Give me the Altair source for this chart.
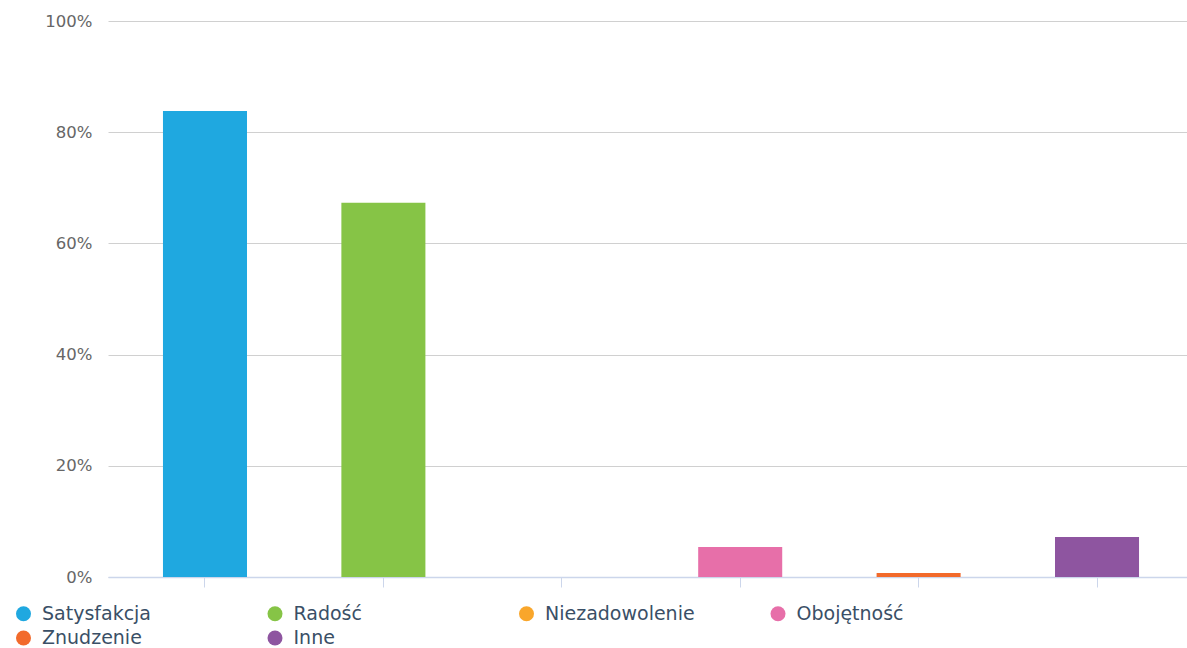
import altair as alt
import pandas as pd

# Survey answers and their shares (percent)
categories = ["Satysfakcja", "Radość", "Niezadowolenie", "Obojętność", "Znudzenie", "Inne"]
shares = [83.8, 67.3, 0.0, 5.4, 0.7, 7.2]
colors = ["#1fa8e0", "#86c446", "#f9a62b", "#e76fa9", "#f26a2b", "#8e55a0"]
y_ticks = [0, 20, 40, 60, 80, 100]

df = pd.DataFrame({"kategoria": categories, "udzial": shares})

chart = (
    alt.Chart(df)
    .mark_bar()
    .encode(
        x=alt.X(
            "kategoria:N",
            sort=categories,
            title=None,
            scale=alt.Scale(paddingInner=0.529, paddingOuter=0.2885, align=0.534),
            axis=alt.Axis(
                labels=False,
                grid=False,
                domainColor="#ccd6eb",
                tickColor="#ccd6eb",
                tickSize=10,
                domainWidth=1.5,
            ),
        ),
        y=alt.Y(
            "udzial:Q",
            title=None,
            scale=alt.Scale(domain=[0, 100], nice=False),
            axis=alt.Axis(
                values=y_ticks,
                labelExpr="datum.value + '%'",
                domain=False,
                ticks=False,
                gridColor="#d0d0d0",
                labelColor="#666666",
                labelFont="DejaVu Sans",
                labelFontSize=16.5,
                labelPadding=16,
            ),
        ),
        color=alt.Color(
            "kategoria:N",
            sort=categories,
            scale=alt.Scale(domain=categories, range=colors),
            legend=alt.Legend(
                title=None,
                orient="none",
                legendX=-94,
                legendY=583,
                columns=4,
                direction="horizontal",
                gridAlign="all",
                columnPadding=73.5,
                rowPadding=4.5,
                symbolType="circle",
                symbolSize=225,
                symbolStrokeWidth=0,
                labelFont="DejaVu Sans",
                labelFontSize=19,
                labelColor="#3a4f66",
                labelOffset=9,
                labelLimit=300,
            ),
        ),
    )
    .properties(
        width=1079,
        height=556,
        padding={"left": 108, "top": 21, "right": 0, "bottom": 71},
        autosize=alt.AutoSizeParams(type="none"),
    )
    .configure_view(stroke=None)
)

chart.save("out.html", embed_options={"renderer": "svg", "actions": False})
